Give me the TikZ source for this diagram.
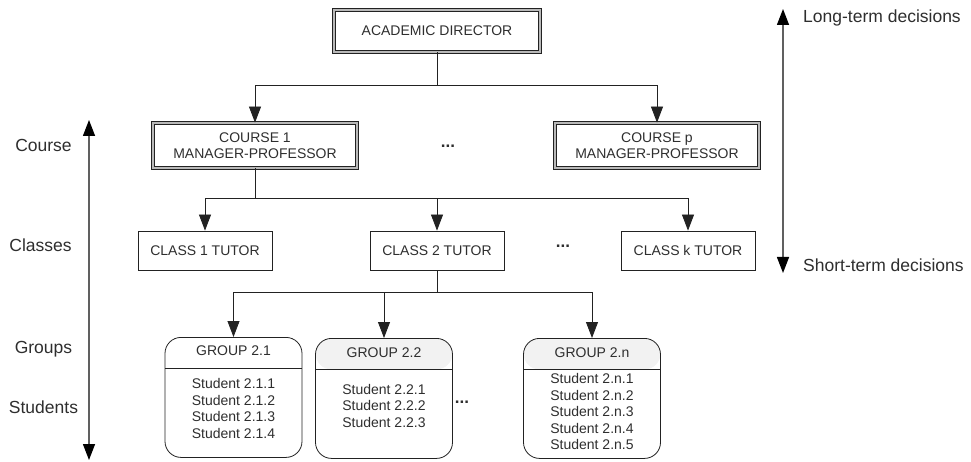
\documentclass[tikz,border=0pt]{standalone}
\usepackage{fontspec}
\setmainfont{Liberation Sans}
\usetikzlibrary{arrows.meta,positioning}
\definecolor{txt}{HTML}{2E2E2E}
\definecolor{ln}{HTML}{222222}
\tikzset{
  x=1pt, y=1pt,
  every node/.style={text=txt, inner sep=0pt, font=\fontsize{14}{16}\selectfont},
  dblbox/.style={draw=ln, line width=0.8pt, double=gray!55, double distance=2.2pt,
    minimum width=204pt, minimum height=42pt, align=center},
  tutorbox/.style={draw=ln, line width=0.8pt, minimum width=134pt, minimum height=39pt},
  groupbox/.style={draw=ln, line width=0.8pt, rounded corners=16pt, minimum width=137pt,
    minimum height=120pt, anchor=north},
  headfill/.style={path picture={\fill[#1] (path picture bounding box.north west) rectangle ([yshift=-31pt]path picture bounding box.north east);
      \draw[ln, line width=0.8pt] ([yshift=-31pt]path picture bounding box.north west) -- ([yshift=-31pt]path picture bounding box.north east);}},
  conn/.style={draw=ln, line width=0.8pt},
  arr/.style={conn, -{Triangle[length=16pt,width=12pt]}},
  scalearr/.style={draw=gray!75!black, line width=1.4pt, {Triangle[length=16pt,width=12pt,fill=black,color=black]}-{Triangle[length=16pt,width=12pt,fill=black,color=black]}},
  sidelabel/.style={font=\fontsize{17.5}{19}\selectfont},
  dots/.style={font=\fontsize{17}{18}\selectfont\bfseries},
  studs/.style={align=center, font=\fontsize{14}{16.5}\selectfont}
}
\begin{document}
\begin{tikzpicture}
\useasboundingbox (0,0) rectangle (971,-462);

% boxes
\node[dblbox, minimum width=206pt] (dir) at (437,-31) {ACADEMIC DIRECTOR};
\node[dblbox, minimum height=45pt] (c1) at (255,-145.5) {COURSE 1\\MANAGER-PROFESSOR};
\node[dblbox, minimum height=45pt] (cp) at (657,-145.5) {COURSE p\\MANAGER-PROFESSOR};
\node[dots] (d1) at (448,-146) {...};

\node[tutorbox] (t1) at (205,-250.5) {CLASS 1 TUTOR};
\node[tutorbox] (t2) at (437,-250.5) {CLASS 2 TUTOR};
\node[tutorbox] (tk) at (688,-250.5) {CLASS k TUTOR};
\node[dots] (d2) at (563,-246) {...};

\node[groupbox, headfill=white] (g1) at (233.5,-337) {};
\node[groupbox, headfill=gray!10] (g2) at (384,-338) {};
\node[groupbox, headfill=gray!10] (gn) at (592,-338) {};
\node[dots] (d3) at (462,-402) {...};

\node (g1h) at (233.5,-351) {GROUP 2.1};
\node (g2h) at (384,-353) {GROUP 2.2};
\node (gnh) at (592,-353) {GROUP 2.n};
\node[studs] (g1s) at (233.5,-408.5) {Student 2.1.1\\Student 2.1.2\\Student 2.1.3\\Student 2.1.4};
\node[studs] (g2s) at (384,-405.5) {Student 2.2.1\\Student 2.2.2\\Student 2.2.3};
\node[studs] (gns) at (592,-411.5) {Student 2.n.1\\Student 2.n.2\\Student 2.n.3\\Student 2.n.4\\Student 2.n.5};

% connectors
\coordinate (j1) at (437,-85);
\draw[conn] (dir.south) -- (j1);
\draw[arr] (j1) -| (c1.north);
\draw[arr] (j1) -| (cp.north);

\coordinate (j2) at (255,-198);
\draw[conn] (c1.south) -- (j2);
\draw[arr] (j2) -| (t1.north);
\draw[arr] (j2) -| (t2.north);
\draw[arr] (j2) -| (tk.north);

\coordinate (j3) at (437,-292);
\draw[conn] (t2.south) -- (j3);
\draw[arr] (j3) -| (g1.north);
\draw[arr] (j3) -| (g2.north);
\draw[arr] (j3) -| (gn.north);

% side scales
\coordinate (la) at (89,-120);
\coordinate (lb) at (89,-460);
\draw[scalearr] (la) -- (lb);
\node[sidelabel] (lc) at (43.5,-145) {Course};
\node[sidelabel] (lcl) at (40.5,-245) {Classes};
\node[sidelabel] (lg) at (43.5,-349) {Groups};
\node[sidelabel] (ls) at (43.5,-407) {Students};

\coordinate (ra) at (783,-9);
\coordinate (rb) at (783,-273);
\draw[scalearr] (ra) -- (rb);
\node[sidelabel, anchor=west] (rl) at (803,-18) {Long-term decisions};
\node[sidelabel, anchor=west] (rs) at (803,-265) {Short-term decisions};
\end{tikzpicture}
\end{document}
